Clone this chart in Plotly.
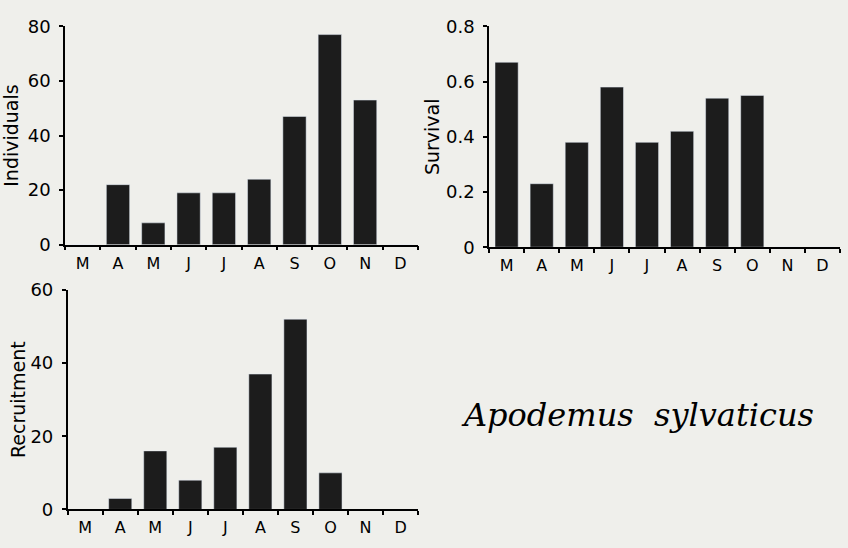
import plotly.graph_objects as go

months = ["M", "A", "M", "J", "J", "A", "S", "O", "N", "D"]
individuals = [0, 22, 8, 19, 19, 24, 47, 77, 53, 0]
survival = [0.67, 0.23, 0.38, 0.58, 0.38, 0.42, 0.54, 0.55, 0, 0]
recruitment = [0, 3, 16, 8, 17, 37, 52, 10, 0, 0]
species = "Apodemus  sylvaticus"

xpos = list(range(len(months)))
bar_color = "#1c1c1c"
bg = "#efefeb"
font_sans = "DejaVu Sans, sans-serif"

fig = go.Figure()
fig.add_trace(go.Bar(x=xpos, y=individuals, xaxis="x", yaxis="y", marker_color=bar_color, width=0.66))
fig.add_trace(go.Bar(x=xpos, y=survival, xaxis="x2", yaxis="y2", marker_color=bar_color, width=0.66))
fig.add_trace(go.Bar(x=xpos, y=recruitment, xaxis="x3", yaxis="y3", marker_color=bar_color, width=0.66))

def xax(domain, anchor):
    return dict(domain=domain, anchor=anchor, range=[-0.5, 9.5], tickmode="array",
                tickvals=xpos, ticktext=months, showline=True, linecolor="black", linewidth=1.5,
                ticks="", showgrid=False, zeroline=False, tickfont=dict(size=16, color="black", family=font_sans),
                ticklabelstandoff=3,
                minor=dict(tickmode="array", tickvals=[i - 0.5 for i in range(11)], ticks="outside",
                           ticklen=4, tickcolor="black", tickwidth=1.5))

def yax(domain, anchor, rng, dtick, title, standoff):
    return dict(domain=domain, anchor=anchor, range=rng, dtick=dtick, showline=True, linecolor="black",
                linewidth=1.5, ticks="outside", ticklen=4, tickcolor="black", tickwidth=1.5,
                showgrid=False, zeroline=False, tickfont=dict(size=18, color="black", family=font_sans),
                ticklabelstandoff=5,
                title=dict(text=title, font=dict(size=19, color="black", family=font_sans), standoff=standoff))

fig.update_layout(
    width=848, height=548, margin=dict(l=0, r=0, t=0, b=0),
    paper_bgcolor=bg, plot_bgcolor=bg, showlegend=False,
    xaxis=xax([0.0767, 0.493], "y"),
    yaxis=yax([0.5566, 0.9708], "x", [0, 80], 20, "Individuals", 6),
    xaxis2=xax([0.5767, 0.9906], "y2"),
    yaxis2=yax([0.5518, 0.9708], "x2", [0, 0.8], 0.2, "Survival", 1),
    xaxis3=xax([0.0798, 0.493], "y3"),
    yaxis3=yax([0.0542, 0.4708], "x3", [0, 60], 20, "Recruitment", 0),
)
fig.update_yaxes(tickformat="~g")

fig.add_annotation(text="<i>" + species + "</i>", x=637 / 848, y=1 - 420 / 548, xref="paper", yref="paper",
                   xanchor="center", yanchor="middle", showarrow=False,
                   font=dict(size=32, color="black", family="DejaVu Serif, serif"))

fig.write_html("out.html", config={"displayModeBar": False},
               post_script="document.body.style.margin='0';document.body.style.overflow='hidden';")
